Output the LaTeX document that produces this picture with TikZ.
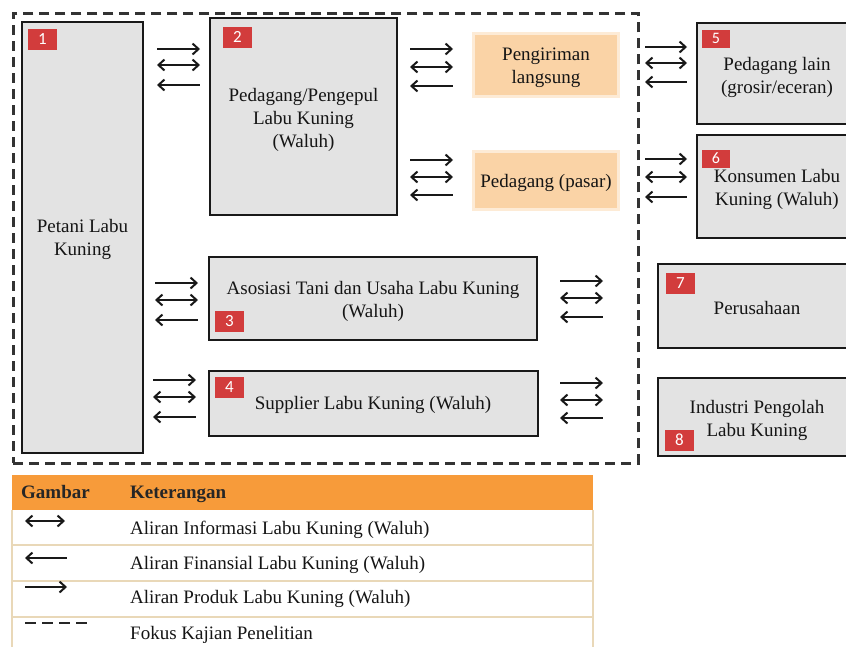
\documentclass[tikz,border=0pt]{standalone}
\usepackage{fontspec}
\setmainfont{Liberation Serif}
\newfontfamily\tagfont{Carlito}
\usetikzlibrary{arrows.meta}
\definecolor{boxgray}{HTML}{E3E3E3}
\definecolor{orangebox}{HTML}{FAD3A6}
\definecolor{orangeglow}{HTML}{FDEBD6}
\definecolor{headorange}{HTML}{F79B3A}
\definecolor{tagred}{HTML}{D23C3C}
\definecolor{tableline}{HTML}{E9D8B8}
\definecolor{textc}{HTML}{151515}
\tikzset{
  box/.style={draw=black!90, line width=2.5pt, fill=boxgray, anchor=north west, inner sep=0pt, outer sep=0pt},
  obox/.style={fill=orangebox, anchor=north west, inner sep=0pt, outer sep=0pt},
  lbl/.style={align=center, font=\fontsize{19}{23}\selectfont, text=textc, inner sep=0pt},
  legtxt/.style={anchor=base west, font=\fontsize{19}{23}\selectfont, text=textc, inner sep=0pt},
  headtxt/.style={anchor=base west, font=\fontsize{19}{23}\selectfont\bfseries, text=black!85, inner sep=0pt},
  tag/.style={fill=tagred, text=white, font=\tagfont\fontsize{17}{17}\selectfont, minimum width=29pt, minimum height=21pt, inner sep=0pt},
  smalltag/.style={tag, minimum width=28pt, minimum height=18pt, font=\tagfont\fontsize{16}{16}\selectfont},
  flow/.style={line width=2pt, black!90},
  prodarrow/.style={flow, -{Straight Barb[length=6pt,width=11pt]}},
  infoarrow/.style={flow, {Straight Barb[length=6pt,width=11pt]}-{Straight Barb[length=6pt,width=11pt]}},
  finarrow/.style={flow, {Straight Barb[length=6pt,width=11pt]}-},
  focusline/.style={line width=2.5pt, black!80, dash pattern=on 10pt off 6pt},
}
\newcommand\flowgroup[6]{%
  \coordinate (#1pa) at (#2,#4); \coordinate (#1pb) at (#3,#4);
  \coordinate (#1ia) at (#2,#5); \coordinate (#1ib) at (#3,#5);
  \coordinate (#1fa) at (#2,#6); \coordinate (#1fb) at (#3,#6);
  \draw[prodarrow] (#1pa) -- (#1pb);
  \draw[infoarrow] (#1ia) -- (#1ib);
  \draw[finarrow] (#1fa) -- (#1fb);
}
\begin{document}
\begin{tikzpicture}[x=1pt,y=-1pt]
\useasboundingbox (0,0) rectangle (846,646);
\clip (0,0) rectangle (846,646);
\fill[white] (0,0) rectangle (846,646);

% focus area
\node[draw, focusline, anchor=north west, minimum width=625pt, minimum height=450pt, inner sep=0pt] (focus) at (12,12) {};

% actor boxes
\node[box, minimum width=121pt, minimum height=431pt] (b1) at (22,22) {};
\node[box, minimum width=187pt, minimum height=197pt] (b2) at (210,18) {};
\node[box, minimum width=328pt, minimum height=83pt] (b3) at (209,257) {};
\node[box, minimum width=329pt, minimum height=65pt] (b4) at (209,371) {};
\node[box, minimum width=160pt, minimum height=101pt] (b5) at (697,23) {};
\node[box, minimum width=160pt, minimum height=103pt] (b6) at (697,135) {};
\node[box, minimum width=198pt, minimum height=84pt] (b7) at (658,264) {};
\node[box, minimum width=198pt, minimum height=78pt] (b8) at (658,378) {};

% orange boxes
\fill[orangeglow] (472,32) rectangle (620,98);
\fill[orangeglow] (472,150) rectangle (620,211);
\node[obox, minimum width=142pt, minimum height=60pt] (o1) at (475,35) {};
\node[obox, minimum width=142pt, minimum height=55pt] (o2) at (475,153) {};

% texts
\node[lbl] (t1) at (82.5,239.5) {Petani Labu\\Kuning};
\node[lbl] (t2) at (303.5,119.5) {Pedagang/Pengepul\\Labu Kuning\\(Waluh)};
\node[lbl] (to1) at (546,67.5) {Pengiriman\\langsung};
\node[lbl] (to2) at (546,183) {Pedagang (pasar)};
\node[lbl] (t3) at (373,301.5) {Asosiasi Tani dan Usaha Labu Kuning\\(Waluh)};
\node[lbl] (t4) at (373,405) {Supplier Labu Kuning (Waluh)};
\node[lbl] (t5) at (777,77) {Pedagang lain\\(grosir/eceran)};
\node[lbl] (t6) at (777,189.5) {Konsumen Labu\\Kuning (Waluh)};
\node[lbl] (t7) at (757,308) {Perusahaan};
\node[lbl] (t8) at (757,420.5) {Industri Pengolah\\Labu Kuning};

% number tags
\node[tag] (n1) at (42.5,39.5) {1};
\node[tag] (n2) at (237.5,37) {2};
\node[tag] (n3) at (229.5,321.5) {3};
\node[tag] (n4) at (229.5,387.5) {4};
\node[smalltag] (n5) at (716,38.5) {5};
\node[smalltag] (n6) at (716,158.5) {6};
\node[tag] (n7) at (680.5,283) {7};
\node[tag] (n8) at (679.5,440) {8};

% flow arrow groups
\flowgroup{ga}{157}{200}{49}{65}{85}
\flowgroup{gb}{410}{453}{49}{67}{86}
\flowgroup{gc}{410}{453}{160}{177}{195}
\flowgroup{gd}{645}{687}{47}{63}{82}
\flowgroup{ge}{645}{687}{159}{177}{197}
\flowgroup{gf}{155}{198}{283}{300}{320}
\flowgroup{gg}{560}{603}{281}{298}{317}
\flowgroup{gh}{153}{196}{380}{397}{417}
\flowgroup{gi}{560}{603}{383}{400}{418}

% legend table
\node[fill=headorange, anchor=north west, minimum width=581pt, minimum height=35pt, inner sep=0pt, outer sep=0pt] (lhead) at (12,475) {};
\draw[tableline, line width=1.2pt] (12,510) -- (12,650);
\draw[tableline, line width=1.2pt] (593,510) -- (593,650);
\draw[tableline, line width=1.5pt] (12,545) -- (593,545);
\draw[tableline, line width=1.5pt] (12,581) -- (593,581);
\draw[tableline, line width=1.5pt] (12,617) -- (593,617);
\node[headtxt] (hg) at (21,498.5) {Gambar};
\node[headtxt] (hk) at (130,498.5) {Keterangan};
\node[legtxt] (l1) at (130,534) {Aliran Informasi Labu Kuning (Waluh)};
\node[legtxt] (l2) at (130,569) {Aliran Finansial Labu Kuning (Waluh)};
\node[legtxt] (l3) at (130,603) {Aliran Produk Labu Kuning (Waluh)};
\node[legtxt] (l4) at (130,639) {Fokus Kajian Penelitian};
\coordinate (li1a) at (25,521); \coordinate (li1b) at (65,521);
\coordinate (li2a) at (25,558); \coordinate (li2b) at (67,558);
\coordinate (li3a) at (25,587); \coordinate (li3b) at (67,587);
\coordinate (li4a) at (25,623); \coordinate (li4b) at (88,623);
\draw[infoarrow] (li1a) -- (li1b);
\draw[finarrow] (li2a) -- (li2b);
\draw[prodarrow] (li3a) -- (li3b);
\draw[line width=2.5pt, black!85, dash pattern=on 11pt off 6pt] (li4a) -- (li4b);
\end{tikzpicture}
\end{document}
